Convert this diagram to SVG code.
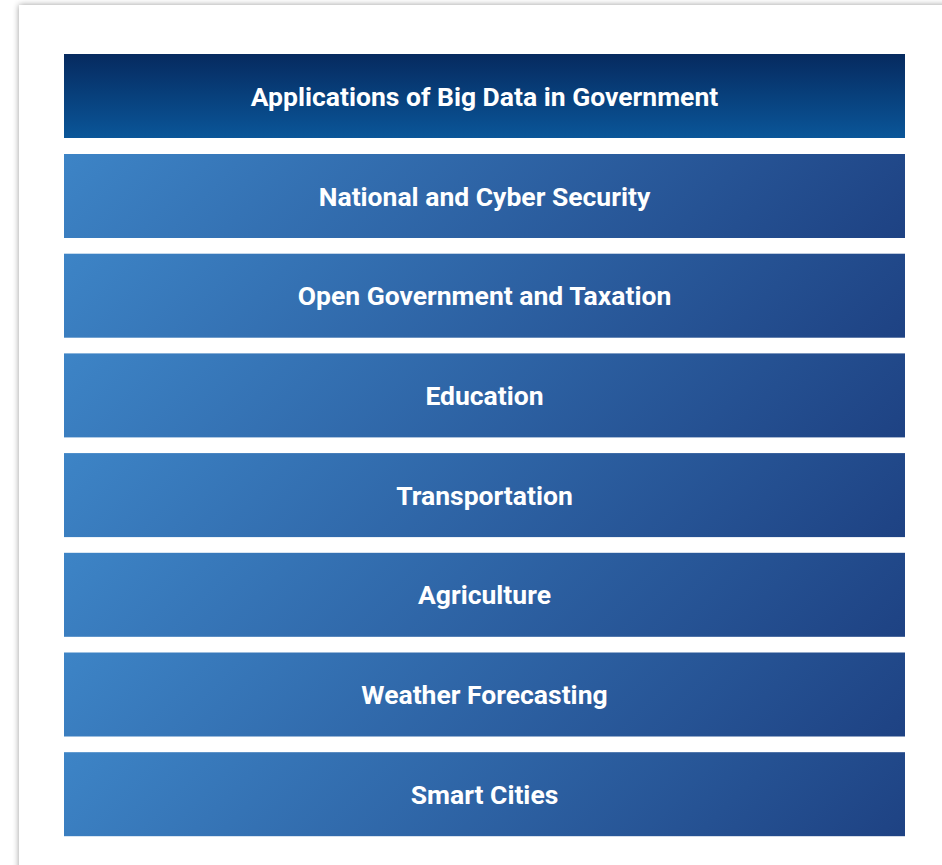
<svg xmlns="http://www.w3.org/2000/svg" width="942" height="865" viewBox="0 0 942 865">
<defs>
<linearGradient id="hdr" x1="0" y1="0" x2="0" y2="1">
<stop offset="0" stop-color="#062a5f"/>
<stop offset="1" stop-color="#0a5699"/>
</linearGradient>
<linearGradient id="item" gradientUnits="userSpaceOnUse" x1="189.3" y1="-189.2" x2="651.7" y2="273.2">
<stop offset="0" stop-color="#3d84c6"/>
<stop offset="1" stop-color="#1e4283"/>
</linearGradient>
<filter id="sh" x="-5%" y="-5%" width="110%" height="110%">
<feGaussianBlur in="SourceAlpha" stdDeviation="3"/>
<feComponentTransfer><feFuncA type="linear" slope="0.4"/></feComponentTransfer>
<feMerge><feMergeNode/><feMergeNode in="SourceGraphic"/></feMerge>
</filter>
</defs>
<style>
.lbl{font-family:Roboto,"Liberation Sans",sans-serif;font-weight:700;font-size:26.5px;fill:#ffffff;text-anchor:middle;}
.box{fill:url(#item);}
</style>
<rect x="0" y="0" width="942" height="865" fill="#ffffff"/>
<rect id="card" x="19" y="5" width="960" height="900" fill="#ffffff" filter="url(#sh)"/>
<g id="header">
<rect x="64" y="54" width="841" height="84" fill="url(#hdr)"/>
<text class="lbl" x="484.5" y="105.5">Applications of Big Data in Government</text>
</g>
<g id="n1" transform="translate(64,154)"><rect class="box" width="841" height="84"/><text class="lbl" x="420.5" y="51.5">National and Cyber Security</text></g>
<g id="n2" transform="translate(64,253.7)"><rect class="box" width="841" height="84"/><text class="lbl" x="420.5" y="51.5">Open Government and Taxation</text></g>
<g id="n3" transform="translate(64,353.4)"><rect class="box" width="841" height="84"/><text class="lbl" x="420.5" y="51.5">Education</text></g>
<g id="n4" transform="translate(64,453.1)"><rect class="box" width="841" height="84"/><text class="lbl" x="420.5" y="51.5">Transportation</text></g>
<g id="n5" transform="translate(64,552.8)"><rect class="box" width="841" height="84"/><text class="lbl" x="420.5" y="51.5">Agriculture</text></g>
<g id="n6" transform="translate(64,652.5)"><rect class="box" width="841" height="84"/><text class="lbl" x="420.5" y="51.5">Weather Forecasting</text></g>
<g id="n7" transform="translate(64,752.2)"><rect class="box" width="841" height="84"/><text class="lbl" x="420.5" y="51.5">Smart Cities</text></g>
<g id="connectors"/>
</svg>
